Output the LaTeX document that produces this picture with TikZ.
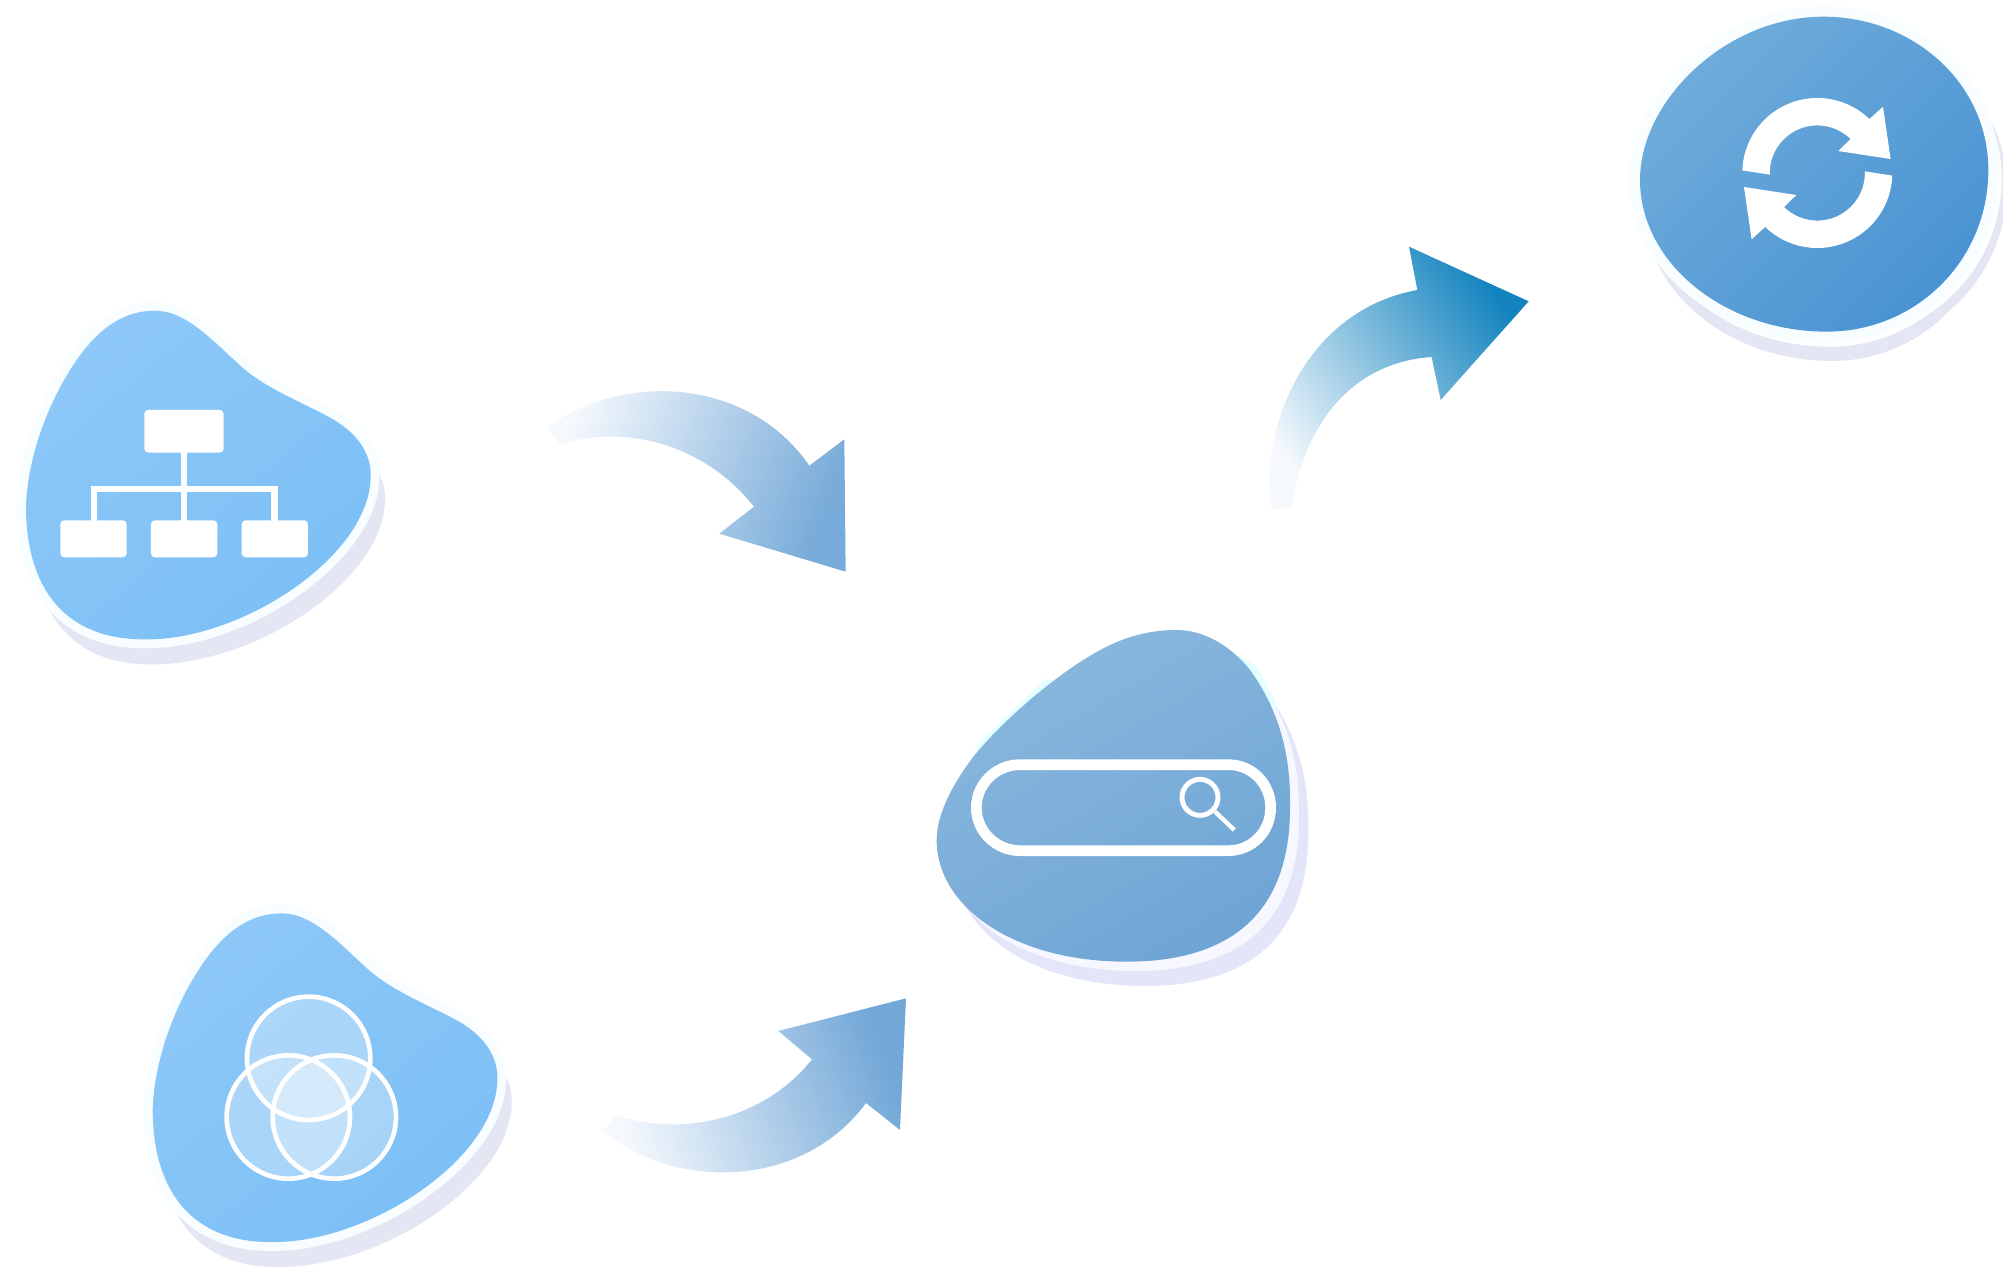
\documentclass[tikz,border=0pt]{standalone}
\definecolor{shadowc}{HTML}{E4E6F4}
\definecolor{shadowd}{HTML}{E3E6F8}
\definecolor{haloc}{HTML}{F8FDFF}
\definecolor{blobA}{HTML}{8DC8F8}
\definecolor{blobB}{HTML}{7CBFF5}
\definecolor{searchA}{HTML}{8AB8DD}
\definecolor{searchB}{HTML}{6FA5D5}
\definecolor{cycleA}{HTML}{6FACDB}
\definecolor{cycleB}{HTML}{4A93D2}
\definecolor{tailc}{HTML}{F5F9FD}
\definecolor{headA}{HTML}{78ABD9}
\definecolor{headB}{HTML}{72A7D7}
\definecolor{midC}{HTML}{78B3D8}
\definecolor{headC}{HTML}{1283BE}
\newcommand{\leafshape}[1]{\path[#1] (465,92) .. controls (560,92) and (640,185) .. (730,265) .. controls (800,325) and (900,365) .. (985,410) .. controls (1070,455) and (1115,520) .. (1112,590) .. controls (1110,830) and (720,1085) .. (430,1078) .. controls (200,1078) and (78,930) .. (78,680) .. controls (82,540) and (140,370) .. (230,240) .. controls (300,140) and (375,92) .. (465,92) -- cycle;}
\newcommand{\searchshape}[1]{\path[#1] (770,60) .. controls (850,60) and (930,105) .. (990,180) .. controls (1070,290) and (1112,420) .. (1110,580) .. controls (1115,920) and (920,1055) .. (620,1055) .. controls (280,1055) and (50,890) .. (50,690) .. controls (50,610) and (100,520) .. (160,440) .. controls (250,330) and (420,180) .. (560,110) .. controls (630,75) and (700,60) .. (770,60) -- cycle;}
\newcommand{\cycleshape}[1]{\path[#1] (610,50) .. controls (880,50) and (1105,250) .. (1105,510) .. controls (1105,780) and (890,995) .. (620,995) .. controls (315,995) and (60,790) .. (60,540) .. controls (60,300) and (320,50) .. (610,50) -- cycle;}
\newcommand{\leafblob}{%
  \begin{scope}[shift={(43,70)}]\leafshape{fill=shadowc}\end{scope}
  \begin{scope}[shift={(20,75)}]\leafshape{fill=shadowc}\end{scope}
  \leafshape{draw=haloc,fill=haloc,line width=25pt,line join=round}
  \leafshape{bottom color=blobA,top color=blobB,shading angle=-140}
}
\tikzset{
  iconbox/.style={fill=white,rounded corners=5.5pt},
  iconbar/.style={fill=white},
  venn/.style={draw=white,line width=6.6pt,fill=white,fill opacity=0.3},
  tailA/.style={bottom color=tailc,top color=headA,shading angle=-110},
  tailB/.style={bottom color=tailc,top color=headB,shading angle=-70},
  tailC/.style={bottom color=tailc,middle color=midC,top color=headC,shading angle=-55},
}
\begin{document}
\begin{tikzpicture}[x=1pt,y=1pt,xscale=1.4226,yscale=-1.4226]
\path[fill=white] (0,0) rectangle (2003,1267);
\useasboundingbox (0,0) rectangle (2003,1267);

% organisation blob
\begin{scope}[shift={(0,280)},scale=1/3]
  \leafblob
  \fill[iconbox] (433,390) rectangle (671,518);
  \fill[iconbar] (544,510) rectangle (561,730);
  \fill[iconbar] (272,617) rectangle (833,635);
  \fill[iconbar] (272,617) rectangle (290,730);
  \fill[iconbar] (814,617) rectangle (833,730);
  \fill[iconbox] (181,721) rectangle (380,832);
  \fill[iconbox] (453,721) rectangle (652,832);
  \fill[iconbox] (725,721) rectangle (924,832);
\end{scope}

% venn blob
\begin{scope}[shift={(126.7,882.7)},scale=1/3]
  \leafblob
\end{scope}
\begin{scope}[shift={(130,890)},scale=1/3]
  \draw[venn] (536,505) circle (185);
  \draw[venn] (475,681) circle (185);
  \draw[venn] (613,681) circle (185);
\end{scope}

% search blob
\begin{scope}[shift={(920,610)},scale=1/3]
  \begin{scope}[shift={(55,73)}]\searchshape{fill=shadowd}\end{scope}
  \begin{scope}[shift={(27,28)}]\searchshape{fill=white!97!blue}\end{scope}
  \fill[haloc!60!cyan!25] (165,410) -- (375,208) -- (420,215) -- (190,450) -- cycle;
  \fill[haloc!60!cyan!25] (935,122) -- (1010,170) -- (1075,290) -- (1040,300) -- cycle;
  \searchshape{bottom color=searchA,top color=searchB,shading angle=-150}
  \draw[draw=white,line width=15.2pt] (300,464) -- (925,464) .. controls (997,464) and (1052,522) .. (1052,593) .. controls (1052,664) and (997,722) .. (925,722) -- (300,722) .. controls (228,722) and (169,664) .. (169,593) .. controls (169,522) and (228,464) .. (300,464) -- cycle;
  \draw[draw=white,line width=7pt] (840,562) circle (54);
  \draw[draw=white,line width=6.2pt] (885,605) -- (943,660);
\end{scope}

% cycle disc
\begin{scope}[shift={(1620,0)},scale=1/3]
  \begin{scope}[shift={(15,88)}]\cycleshape{fill=shadowc}\end{scope}
  \begin{scope}[shift={(55,50)}]\cycleshape{fill=shadowc}\end{scope}
  \begin{scope}[shift={(10,45)}]\cycleshape{fill=white}\end{scope}
  \begin{scope}[shift={(40,25)}]\cycleshape{fill=white}\end{scope}
  \cycleshape{draw=haloc,fill=haloc,line width=30pt,line join=round}
  \cycleshape{bottom color=cycleA,top color=cycleB,shading angle=-135}
\end{scope}
\begin{scope}[shift={(1817.3,173)}]
  \foreach \turn in {0,180}{
    \fill[white,rotate=\turn] (182:75) arc[start angle=182,end angle=314,radius=75]
      -- (65.7,-66.3) -- (73.3,-14) -- (21,-22) -- (314.4:47.6)
      arc[start angle=314.4,end angle=178,radius=47.6] -- cycle;
  }
\end{scope}

% block arrows
\begin{scope}[shift={(530,370)},scale=1/3]
  \path[tailA] (52,172) .. controls (270,10) and (650,15) .. (838,287)
    -- (943,208) -- (947,605) -- (568,491) -- (672,410)
    .. controls (530,230) and (300,160) .. (90,222) -- cycle;
\end{scope}
\begin{scope}[shift={(590,980)},scale=1/3]
  \path[tailB] (38,453) .. controls (260,635) and (640,625) .. (828,369)
    -- (930,450) -- (948,55) -- (565,153) -- (666,238)
    .. controls (530,410) and (290,475) .. (78,406) -- cycle;
\end{scope}
\begin{scope}[shift={(1250,230)},scale=1/3]
  \path[tailC] (65,840) .. controls (25,590) and (170,240) .. (502,180)
    -- (477,50) -- (836,214) -- (572,510) -- (545,381)
    .. controls (330,395) and (170,550) .. (125,828) -- cycle;
\end{scope}
\end{tikzpicture}
\end{document}
